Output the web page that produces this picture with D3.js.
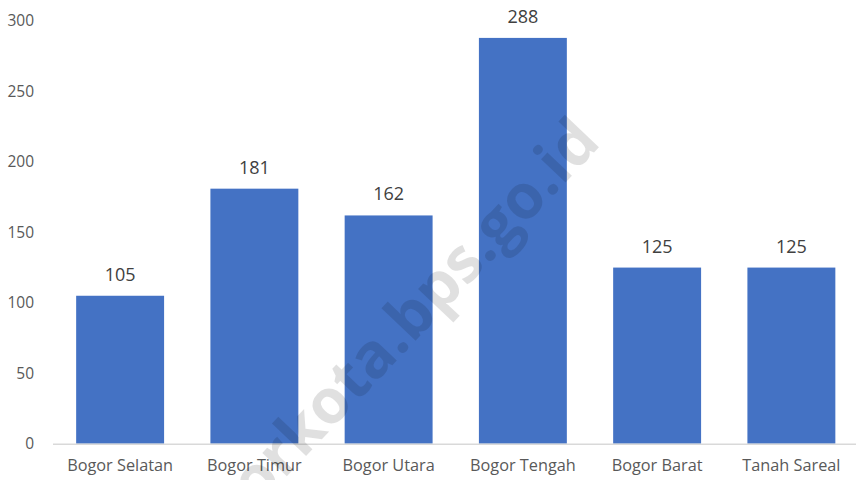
<!DOCTYPE html>
<html><head><meta charset="utf-8">
<script src="https://cdn.jsdelivr.net/npm/d3@7"></script>
<style>body{margin:0;background:#fff}svg{display:block}</style>
</head><body>
<svg id="c" width="856" height="480"></svg>
<script>
const categories = ["Bogor Selatan","Bogor Timur","Bogor Utara","Bogor Tengah","Bogor Barat","Tanah Sareal"];
const values = [105,181,162,288,125,125];
const yTicks = [0,50,100,150,200,250,300];

const svg = d3.select("#c");
const x = d3.scaleBand().domain(categories).range([53, 858.5]).paddingInner(0.345).paddingOuter(0.1725);
const y = d3.scaleLinear().domain([0,300]).range([443.7, 21]);
const font = "'Open Sans', 'Noto Sans', sans-serif";

// y axis labels
const ya = svg.append("g").attr("transform","translate(34,0)")
  .call(d3.axisLeft(y).tickValues(yTicks).tickSize(0).tickPadding(0));
ya.select(".domain").remove();
ya.selectAll("text").attr("font-family",font).attr("font-size",15.5).attr("fill","#595959");

// bars
svg.append("g").selectAll("rect").data(values).join("rect")
  .attr("x",(d,i)=>x(categories[i]))
  .attr("y",d=>y(d))
  .attr("width",x.bandwidth())
  .attr("height",d=>y(0)-y(d))
  .attr("fill","#4472c4");

// baseline
const xa = svg.append("g").attr("transform",`translate(0,${y(0)})`)
  .call(d3.axisBottom(x).tickSize(0).tickPadding(16));
xa.select(".domain").attr("stroke","#d9d9d9").attr("stroke-width",1.5).attr("d","M53,0.5H856");
xa.selectAll("text").attr("font-family",font).attr("font-size",16.3).attr("fill","#595959");

// data labels
svg.append("g").selectAll("text").data(values).join("text")
  .attr("x",(d,i)=>x(categories[i])+x.bandwidth()/2)
  .attr("y",d=>y(d)-15)
  .attr("text-anchor","middle")
  .attr("font-family",font).attr("font-size",18).attr("fill","#404040")
  .text(d=>d);

// watermark
const wm = svg.append("g").attr("transform","translate(400,357) rotate(-46.5)")
  .attr("font-family",font).attr("font-weight","bold").attr("font-size",62)
  .attr("fill","rgba(0,0,0,0.12)");
wm.append("text").attr("text-anchor","end").text("bogorkota");
wm.append("text").attr("text-anchor","start").text(".bps.go.id");
</script>
</body></html>
